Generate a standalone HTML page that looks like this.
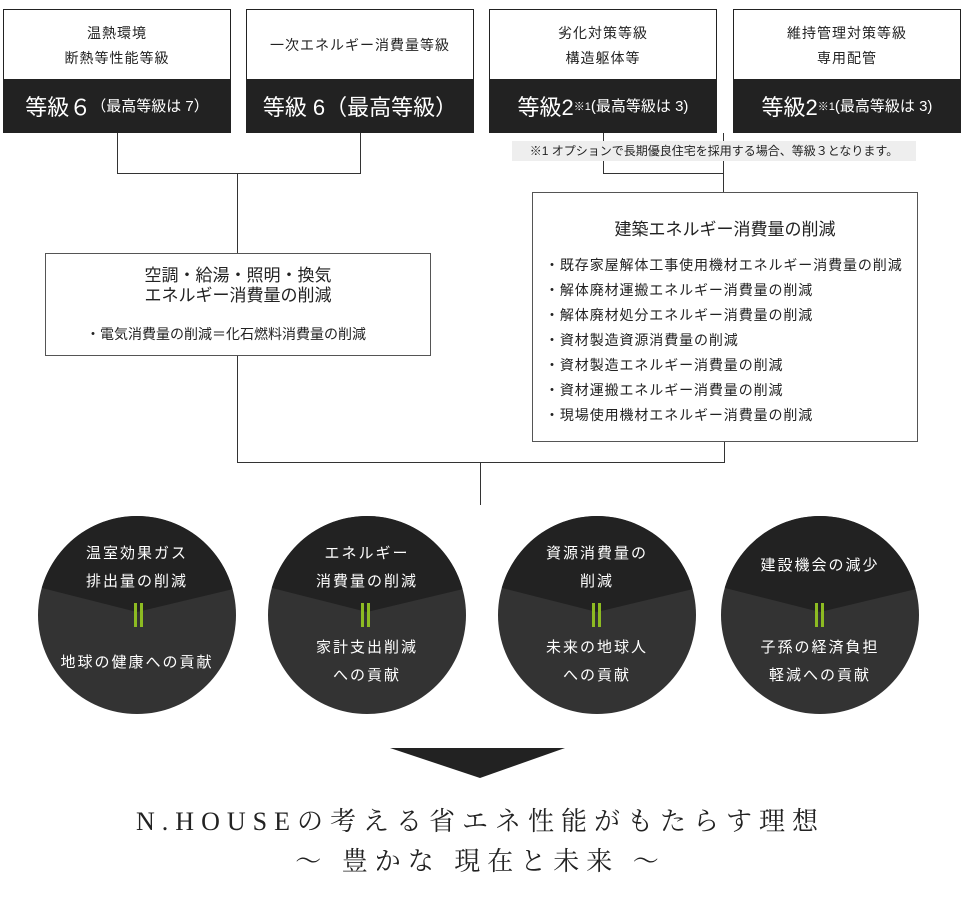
<!DOCTYPE html>
<html><head><meta charset="utf-8"><style>
body{margin:0;width:961px;height:922px;background:#fff;position:relative;overflow:hidden;font-family:"Liberation Sans","Noto Sans CJK JP",sans-serif;color:#222}
.a{position:absolute}
.box{position:absolute;top:9px;width:228px;height:124px;border:1px solid #222;box-sizing:border-box;background:#fff}
.box .h{position:absolute;left:0;right:0;top:0;height:71px;display:flex;align-items:center;justify-content:center;text-align:center;font-size:14px;line-height:25px;letter-spacing:1px}
.box .d{position:absolute;left:0;right:0;bottom:0;height:53px;background:#222;color:#fff;display:flex;align-items:center;justify-content:center;font-size:22px;white-space:nowrap}
.box .d small{font-size:15px}
.box .d sup{font-size:11px;vertical-align:9px}
.ib{position:absolute;border:1px solid #555;box-sizing:border-box;background:#fff}
.ct{position:absolute;width:200px;text-align:center;color:#fff;font-size:15px;line-height:28px;letter-spacing:2px}
</style></head><body>
<svg class="a" style="left:0;top:0" width="961" height="922">
<g stroke="#333" stroke-width="1" fill="none">
<path d="M117.5 133V173.5H360.5V133"/><path d="M237.5 173V253"/>
<path d="M603.5 133V173.5H723.5V133"/><path d="M723.5 173V192"/>
<path d="M237.5 355V462.5H724.5V441"/><path d="M480.5 462V505"/>
</g>
<defs>
<clipPath id="c1"><circle cx="137" cy="615" r="99"/></clipPath>
<clipPath id="c2"><circle cx="367" cy="615" r="99"/></clipPath>
<clipPath id="c3"><circle cx="597" cy="615" r="99"/></clipPath>
<clipPath id="c4"><circle cx="820" cy="615" r="99"/></clipPath>
</defs>
<g clip-path="url(#c1)"><rect x="30" y="510" width="220" height="220" fill="#333"/><path d="M30 510H250V585L137 612L30 585Z" fill="#222"/></g>
<g clip-path="url(#c2)"><rect x="260" y="510" width="220" height="220" fill="#333"/><path d="M260 510H480V585L367 612L260 585Z" fill="#222"/></g>
<g clip-path="url(#c3)"><rect x="490" y="510" width="220" height="220" fill="#333"/><path d="M490 510H710V585L597 612L490 585Z" fill="#222"/></g>
<g clip-path="url(#c4)"><rect x="713" y="510" width="220" height="220" fill="#333"/><path d="M713 510H933V585L820 612L713 585Z" fill="#222"/></g>
<g fill="#8dbb22">
<rect x="134" y="603" width="3" height="24"/><rect x="140" y="603" width="3" height="24"/>
<rect x="361" y="603" width="3" height="24"/><rect x="367" y="603" width="3" height="24"/>
<rect x="592" y="603" width="3" height="24"/><rect x="598" y="603" width="3" height="24"/>
<rect x="815" y="603" width="3" height="24"/><rect x="821" y="603" width="3" height="24"/>
</g>
<path d="M390 748H565L480 778Z" fill="#222"/>
</svg>

<div class="box" style="left:3px"><div class="h">温熱環境<br>断熱等性能等級</div><div class="d">等級６<small>（最高等級は 7）</small></div></div>
<div class="box" style="left:246px"><div class="h">一次エネルギー消費量等級</div><div class="d">等級 6（最高等級）</div></div>
<div class="box" style="left:489px"><div class="h">劣化対策等級<br>構造躯体等</div><div class="d">等級2<sup>※1</sup><small>(最高等級は 3)</small></div></div>
<div class="box" style="left:733px"><div class="h">維持管理対策等級<br>専用配管</div><div class="d">等級2<sup>※1</sup><small>(最高等級は 3)</small></div></div>
<div class="a" style="left:512px;top:141px;width:404px;height:20px;background:#eee;font-size:12px;line-height:20px;text-align:center;white-space:nowrap">※1 オプションで長期優良住宅を採用する場合、等級３となります。</div>

<div class="ib" style="left:45px;top:253px;width:386px;height:103px">
<div class="a" style="left:0;right:0;top:12px;text-align:center;font-size:17px;line-height:20px">空調・給湯・照明・換気<br>エネルギー消費量の削減</div>
<div class="a" style="left:40px;top:70px;font-size:14px">・電気消費量の削減＝化石燃料消費量の削減</div>
</div>
<div class="ib" style="left:532px;top:192px;width:386px;height:250px">
<div class="a" style="left:0;right:0;top:22px;text-align:center;font-size:17px">建築エネルギー消費量の削減</div>
<div class="a" style="left:12px;top:60px;font-size:14px;line-height:25px;white-space:nowrap;letter-spacing:0.9px">・既存家屋解体工事使用機材エネルギー消費量の削減<br>・解体廃材運搬エネルギー消費量の削減<br>・解体廃材処分エネルギー消費量の削減<br>・資材製造資源消費量の削減<br>・資材製造エネルギー消費量の削減<br>・資材運搬エネルギー消費量の削減<br>・現場使用機材エネルギー消費量の削減</div>
</div>

<div class="ct" style="left:37px;top:540px">温室効果ガス<br>排出量の削減</div>
<div class="ct" style="left:37px;top:649px">地球の健康への貢献</div>
<div class="ct" style="left:267px;top:540px">エネルギー<br>消費量の削減</div>
<div class="ct" style="left:267px;top:634px">家計支出削減<br>への貢献</div>
<div class="ct" style="left:497px;top:540px">資源消費量の<br>削減</div>
<div class="ct" style="left:497px;top:634px">未来の地球人<br>への貢献</div>
<div class="ct" style="left:720px;top:552px">建設機会の減少</div>
<div class="ct" style="left:720px;top:634px">子孫の経済負担<br>軽減への貢献</div>

<div class="a" style="left:0;width:961px;top:802px;text-align:center;font-family:'Liberation Serif','Noto Serif CJK SC',serif;font-size:26px;letter-spacing:7px;line-height:40px">N.HOUSEの考える省エネ性能がもたらす理想<br>～ 豊かな 現在と未来 ～</div>
</body></html>
